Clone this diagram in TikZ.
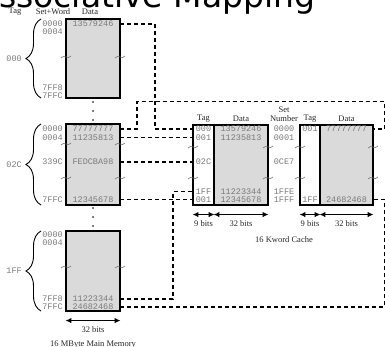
\documentclass[tikz,border=0pt]{standalone}
\usepackage{fontspec}
\setmainfont{Liberation Serif}
\setmonofont{Liberation Mono}
\newfontfamily\headfont{DejaVu Sans}
\usetikzlibrary{arrows.meta,decorations.pathreplacing}
\definecolor{CellGray}{HTML}{DADADA}
\definecolor{HexGray}{HTML}{7A7A7A}

\begin{document}
\begin{tikzpicture}[x=1pt,y=-1pt,
  memblk/.style={draw,line width=1.1pt,fill=CellGray,inner sep=0},
  tagblk/.style={draw,line width=1.1pt,fill=white,inner sep=0},
  hex/.style={font=\ttfamily\fontsize{8.5}{8.5}\selectfont,text=HexGray,inner sep=0,text height=5.5pt,text depth=0pt},
  lbl/.style={font=\fontsize{8.5}{9}\selectfont,inner sep=0,text=black!85},
  link/.style={line width=1.2pt,dash pattern=on 4pt off 3pt},
  brk/.style={HexGray,line width=.6pt},
  brc/.style={decorate,decoration={brace,amplitude=15pt},line width=.9pt},
  span/.style={{Latex[length=6pt,width=5.5pt]}-{Latex[length=6pt,width=5.5pt]},line width=1.1pt}]
  \useasboundingbox (0,0) rectangle (385,347);

  \node[anchor=base west,font=\headfont\fontsize{33}{33}\selectfont,inner sep=0,text depth=0pt] (title) at (-1,7.5) {ssociative Mapping};

  \node[lbl] (hTag) at (15,11.5) {Tag};
  \node[lbl] (hSetWord) at (53,11.5) {Set+Word};
  \node[lbl] (hData) at (90,11.5) {Data};

  \node[memblk,minimum width=54pt,minimum height=79pt] (blkA) at (93,58.5) {};
  \node[memblk,minimum width=54pt,minimum height=81pt] (blkB) at (93,164.5) {};
  \node[memblk,minimum width=54pt,minimum height=80pt] (blkC) at (93,271) {};

  \foreach \y/\t [count=\i] in {24/0000,32/0004,88/7FF8,95.5/7FFC}
    \node[hex,anchor=east] (aA\i) at (63,\y) {\t};
  \foreach \y/\t [count=\i] in {129/0000,137.5/0004,162/339C,199.5/7FFC}
    \node[hex,anchor=east] (aB\i) at (63,\y) {\t};
  \foreach \y/\t [count=\i] in {235/0000,243/0004,299/7FF8,307/7FFC}
    \node[hex,anchor=east] (aC\i) at (63,\y) {\t};

  \node[hex,minimum width=54pt] (dA1) at (93,24) {13579246};
  \node[hex,minimum width=54pt] (dB1) at (93,129) {77777777};
  \node[hex,minimum width=54pt] (dB2) at (93,137.5) {11235813};
  \node[hex,minimum width=54pt] (dB3) at (93,162) {FEDCBA98};
  \node[hex,minimum width=54pt] (dB4) at (93,199.5) {12345678};
  \node[hex,minimum width=54pt] (dC1) at (93,299) {11223344};
  \node[hex,minimum width=54pt] (dC2) at (93,307) {24682468};

  \draw[brc] (41,98) -- (41,19);
  \draw[brc] (41,205) -- (41,124);
  \draw[brc] (41,311) -- (41,231);
  \node[hex,anchor=east] (gA) at (22,59) {000};
  \node[hex,anchor=east] (gB) at (22,164.5) {02C};
  \node[hex,anchor=east] (gC) at (22,271) {1FF};

  \foreach \y in {102,111,120,208,217,226}
    \fill (93,\y) circle (0.9pt);

  \draw[span] ([yshift=-9pt]blkC.south west) -- ([yshift=-9pt]blkC.south east);
  \node[lbl] (wMem) at (93,330) {32 bits};
  \node[lbl] (capMem) at (93,344.5) {16 MByte Main Memory};

  \node[tagblk,minimum width=21pt,minimum height=80pt] (wayT1) at (203.5,165) {};
  \node[memblk,minimum width=54pt,minimum height=80pt] (wayD1) at (241,165) {};
  \node[tagblk,minimum width=20pt,minimum height=80pt] (wayT2) at (310,165) {};
  \node[memblk,minimum width=53pt,minimum height=80pt] (wayD2) at (346.5,165) {};

  \node[lbl] (hcTag1) at (203.5,118.5) {Tag};
  \node[lbl] (hcData1) at (241,118.5) {Data};
  \node[lbl] (hSet) at (284,110) {Set};
  \node[lbl] (hNum) at (284,119) {Number};
  \node[lbl] (hcTag2) at (310,118.5) {Tag};
  \node[lbl] (hcData2) at (346.5,118.5) {Data};

  \foreach \y/\s/\t [count=\i] in {129/0000/000,137.5/0001/001,162/0CE7/02C,191.5/1FFE/1FF,199.5/1FFF/001} {
    \node[hex,minimum width=21pt] (cT\i) at (203.5,\y) {\t};
    \node[hex] (sN\i) at (284,\y) {\s};
  }
  \node[hex,minimum width=54pt] (cD1) at (241,129) {13579246};
  \node[hex,minimum width=54pt] (cD2) at (241,137.5) {11235813};
  \node[hex,minimum width=54pt] (cD4) at (241,191.5) {11223344};
  \node[hex,minimum width=54pt] (cD5) at (241,199.5) {12345678};
  \node[hex,minimum width=20pt] (vT1) at (310,129) {001};
  \node[hex,minimum width=20pt] (vT2) at (310,199.5) {1FF};
  \node[hex,minimum width=53pt] (vD1) at (346.5,129) {77777777};
  \node[hex,minimum width=53pt] (vD2) at (346.5,199.5) {24682468};

  \foreach \x/\y in {66/57,120/57,66/144,120/144,66/178,120/178,66/267,120/267,
                     193/147,193/178,268/147,268/178,300/147,300/178,373/147,373/178}
    \draw[brk] (\x-5,\y+1) .. controls (\x-1.5,\y-3.5) and (\x+1.5,\y+3.5) .. (\x+5,\y-1);

  \draw[span] ([yshift=-9pt]wayT1.south west) -- ([yshift=-9pt]wayT1.south east);
  \draw[span] ([yshift=-9pt]wayD1.south west) -- ([yshift=-9pt]wayD1.south east);
  \draw[span] ([yshift=-9pt]wayT2.south west) -- ([yshift=-9pt]wayT2.south east);
  \draw[span] ([yshift=-9pt]wayD2.south west) -- ([yshift=-9pt]wayD2.south east);
  \node[lbl] (wT1) at (203.5,223.5) {9 bits};
  \node[lbl] (wD1) at (241,223.5) {32 bits};
  \node[lbl] (wT2) at (310,223.5) {9 bits};
  \node[lbl] (wD2) at (346.5,223.5) {32 bits};
  \node[lbl] (capCache) at (284,240) {16 Kword Cache};

  \draw[link] (dA1.east) -| (155,129) -- (cT1.west);
  \draw[link] (dB1.east) -| (137,101.5) -| (384.5,129) -- (vD1.east);
  \draw[link] (dB2.east) -- (cT2.west);
  \draw[link] (dB3.east) -- (cT3.west);
  \draw[link] (dB4.east) -- (cT5.west);
  \draw[link] (dC1.east) -| (173,191.5) -- (cT4.west);
  \draw[link] (dC2.east) -| (384.5,199.5) -- (vD2.east);
\end{tikzpicture}
\end{document}
